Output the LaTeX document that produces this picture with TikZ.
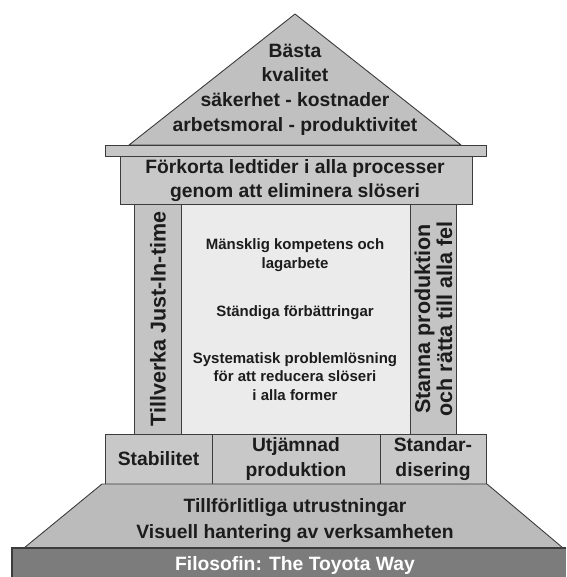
\documentclass[tikz,border=0pt]{standalone}
\usepackage{fontspec}
\setmainfont{Liberation Sans}
\definecolor{edge}{HTML}{3C3C3C}
\definecolor{ink}{HTML}{1C1C1C}
\definecolor{roofgray}{HTML}{C0C0C0}
\definecolor{beamgray}{HTML}{C6C6C6}
\definecolor{pillargray}{HTML}{C4C4C4}
\definecolor{corelight}{HTML}{EBEBEB}
\definecolor{stepgray}{HTML}{C8C8C8}
\definecolor{slopegray}{HTML}{BBBBBB}
\definecolor{basegray}{HTML}{7C7C7C}
\begin{document}
\begin{tikzpicture}[x=1pt,y=-1pt,
  part/.style={draw=edge, line width=0.9pt, fill=#1},
  lbl/.style={align=center, inner sep=0pt, text=ink,
    font=\bfseries\fontsize{19.3}{24.6}\selectfont},
  corelbl/.style={lbl, font=\bfseries\fontsize{15}{18.8}\selectfont},
  pillarlbl/.style={lbl, rotate=90, font=\bfseries\fontsize{21.5}{22}\selectfont}]
\useasboundingbox (0,0) rectangle (566,577);

% roof
\draw[part=roofgray, line join=round] (129,145) -- (295,14) -- (461,145) -- cycle;
% eave
\draw[part=beamgray] (105,145) rectangle (486,156);
% lintel
\draw[part=stepgray] (120,156) rectangle (472,204);
% core and pillars
\draw[part=corelight] (181,204) rectangle (410,434);
\draw[part=pillargray] (134,204) rectangle (181,434);
\draw[part=pillargray] (410,204) rectangle (456,434);
% foundation row
\draw[part=stepgray] (105,434) rectangle (212,484);
\draw[part=stepgray] (212,434) rectangle (380,484);
\draw[part=stepgray] (380,434) rectangle (486,484);
% sloped plinth
\draw[part=slopegray, line join=round] (102,484) -- (487,484) -- (563,548) -- (24,548) -- cycle;
% base
\fill[basegray] (12,548) rectangle (566,577);
\draw[edge, line width=1.4pt] (566,548) -- (12,548) -- (12,577);

% texts
\node[lbl] (roof) at (295,89.5) {Bästa\\kvalitet\\säkerhet - kostnader\\arbetsmoral - produktivitet};
\node[lbl] (lintel) at (295,180.5) {Förkorta ledtider i alla processer\\genom att eliminera slöseri};
\node[corelbl] (human) at (295,255.5) {Mänsklig kompetens och\\lagarbete};
\node[corelbl] (kaizen) at (295,312.5) {Ständiga förbättringar};
\node[corelbl] (problem) at (295,376.5) {Systematisk problemlösning\\för att reducera slöseri\\i alla former};
\node[pillarlbl] (jit) at (158,319) {Tillverka Just-In-time};
\node[pillarlbl] (jidoka) at (433.5,319) {Stanna produktion\\och rätta till alla fel};
\node[lbl] (stab) at (158.5,459) {Stabilitet};
\node[lbl] (heijunka) at (296,459) {Utjämnad\\produktion};
\node[lbl] (std) at (433,459) {Standar-\\disering};
\node[lbl, font=\bfseries\fontsize{19.3}{25.5}\selectfont] (tpm) at (295,520.5) {Tillförlitliga utrustningar\\Visuell hantering av verksamheten};
\node[lbl, text=white] (philo) at (295,566) {Filosofin: The Toyota Way};
\end{tikzpicture}
\end{document}
